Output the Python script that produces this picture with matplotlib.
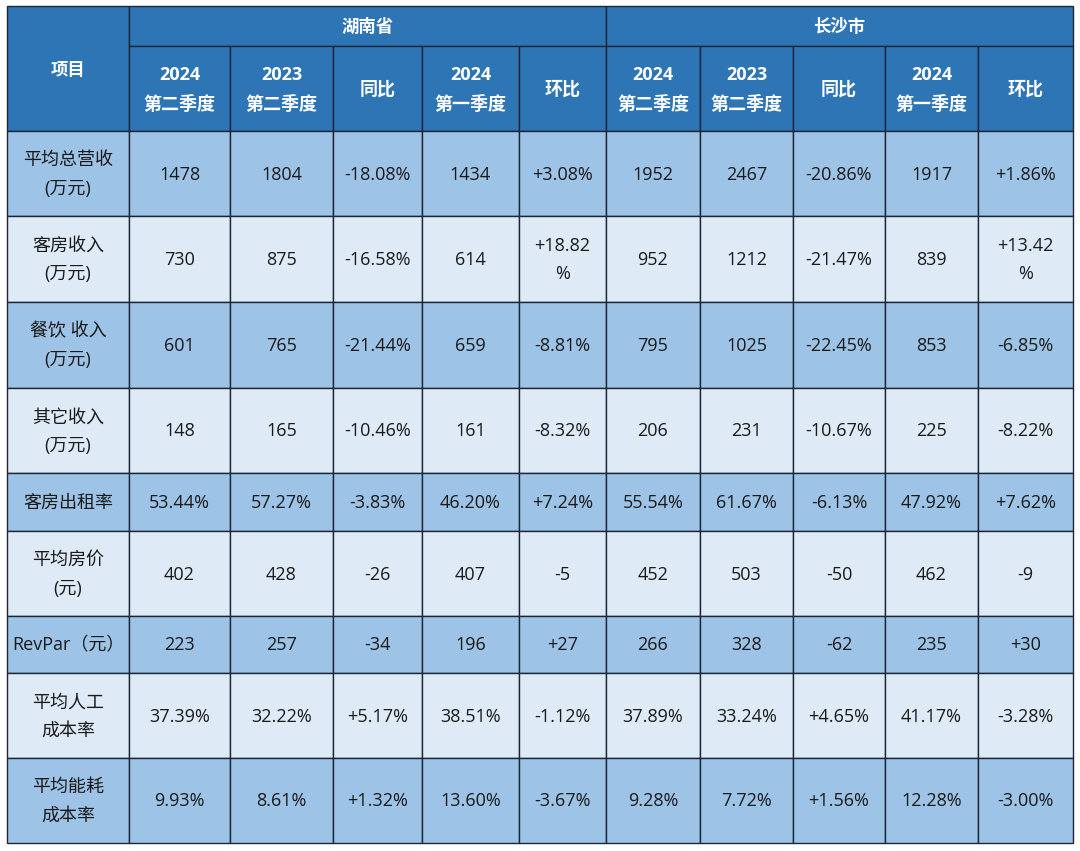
import matplotlib
matplotlib.use("Agg")
import matplotlib.pyplot as plt
from matplotlib.patches import Rectangle

plt.rcParams['font.family'] = ['Open Sans', 'Noto Sans CJK SC', 'DejaVu Sans']

# ---- data ----
regions = ["湖南省", "长沙市"]
sub_headers = ["2024\n第二季度", "2023\n第二季度", "同比", "2024\n第一季度", "环比"]
row_labels = ["平均总营收\n(万元)", "客房收入\n(万元)", "餐饮 收入\n(万元)", "其它收入\n(万元)",
              "客房出租率", "平均房价\n(元)", "RevPar（元）", "平均人工\n成本率", "平均能耗\n成本率"]
hunan = [
    ["1478", "1804", "-18.08%", "1434", "+3.08%"],
    ["730", "875", "-16.58%", "614", "+18.82\n%"],
    ["601", "765", "-21.44%", "659", "-8.81%"],
    ["148", "165", "-10.46%", "161", "-8.32%"],
    ["53.44%", "57.27%", "-3.83%", "46.20%", "+7.24%"],
    ["402", "428", "-26", "407", "-5"],
    ["223", "257", "-34", "196", "+27"],
    ["37.39%", "32.22%", "+5.17%", "38.51%", "-1.12%"],
    ["9.93%", "8.61%", "+1.32%", "13.60%", "-3.67%"],
]
changsha = [
    ["1952", "2467", "-20.86%", "1917", "+1.86%"],
    ["952", "1212", "-21.47%", "839", "+13.42\n%"],
    ["795", "1025", "-22.45%", "853", "-6.85%"],
    ["206", "231", "-10.67%", "225", "-8.22%"],
    ["55.54%", "61.67%", "-6.13%", "47.92%", "+7.62%"],
    ["452", "503", "-50", "462", "-9"],
    ["266", "328", "-62", "235", "+30"],
    ["37.89%", "33.24%", "+4.65%", "41.17%", "-3.28%"],
    ["9.28%", "7.72%", "+1.56%", "12.28%", "-3.00%"],
]

# ---- layout (pixels) ----
col_edges = [7, 129, 230, 333, 422, 519, 606, 700, 793, 885, 978, 1073]
row_edges = [131, 216, 302, 388, 473, 531, 616, 673, 758, 843]
hdr_top, hdr_mid, hdr_bot = 6, 46, 131

HEADER = "#2E75B6"
DARK = "#9DC3E6"
LIGHT = "#DEEBF7"
LINE = "#1C2636"
TEXT = "#1A1A1A"

fig = plt.figure(figsize=(10.8, 8.51), dpi=100)
ax = fig.add_axes([0, 0, 1, 1])
ax.set_xlim(0, 1080)
ax.set_ylim(851, 0)
ax.axis("off")

def cell(x0, x1, y0, y1, color):
    ax.add_patch(Rectangle((x0, y0), x1 - x0, y1 - y0, facecolor=color,
                           edgecolor=LINE, linewidth=1.0))

# header
cell(col_edges[0], col_edges[1], hdr_top, hdr_bot, HEADER)
ax.text((col_edges[0] + col_edges[1]) / 2, 70, "项目", ha="center", va="center",
        color="white", fontsize=12.5, fontweight="bold")
for r, name in enumerate(regions):
    x0 = col_edges[1 + 5 * r]
    x1 = col_edges[6 + 5 * r]
    cell(x0, x1, hdr_top, hdr_mid, HEADER)
    ax.text((x0 + x1) / 2, (hdr_top + hdr_mid) / 2 + 1, name, ha="center", va="center",
            color="white", fontsize=12.5, fontweight="bold")
    for j, h in enumerate(sub_headers):
        a = col_edges[1 + 5 * r + j]
        b = col_edges[2 + 5 * r + j]
        cell(a, b, hdr_mid, hdr_bot, HEADER)
        ax.text((a + b) / 2, (hdr_mid + hdr_bot) / 2 + 1.5, h, ha="center", va="center",
                color="white", fontsize=13, fontweight="bold", linespacing=1.85)

# body
for i, lab in enumerate(row_labels):
    y0, y1 = row_edges[i], row_edges[i + 1]
    color = DARK if i % 2 == 0 else LIGHT
    values = [lab] + hunan[i] + changsha[i]
    for j, v in enumerate(values):
        a, b = col_edges[j], col_edges[j + 1]
        cell(a, b, y0, y1, color)
        ax.text((a + b) / 2, (y0 + y1) / 2 + 1, v, ha="center", va="center",
                color=TEXT, fontsize=13, linespacing=1.75)

fig.savefig("out.png", dpi=100, facecolor="white")
